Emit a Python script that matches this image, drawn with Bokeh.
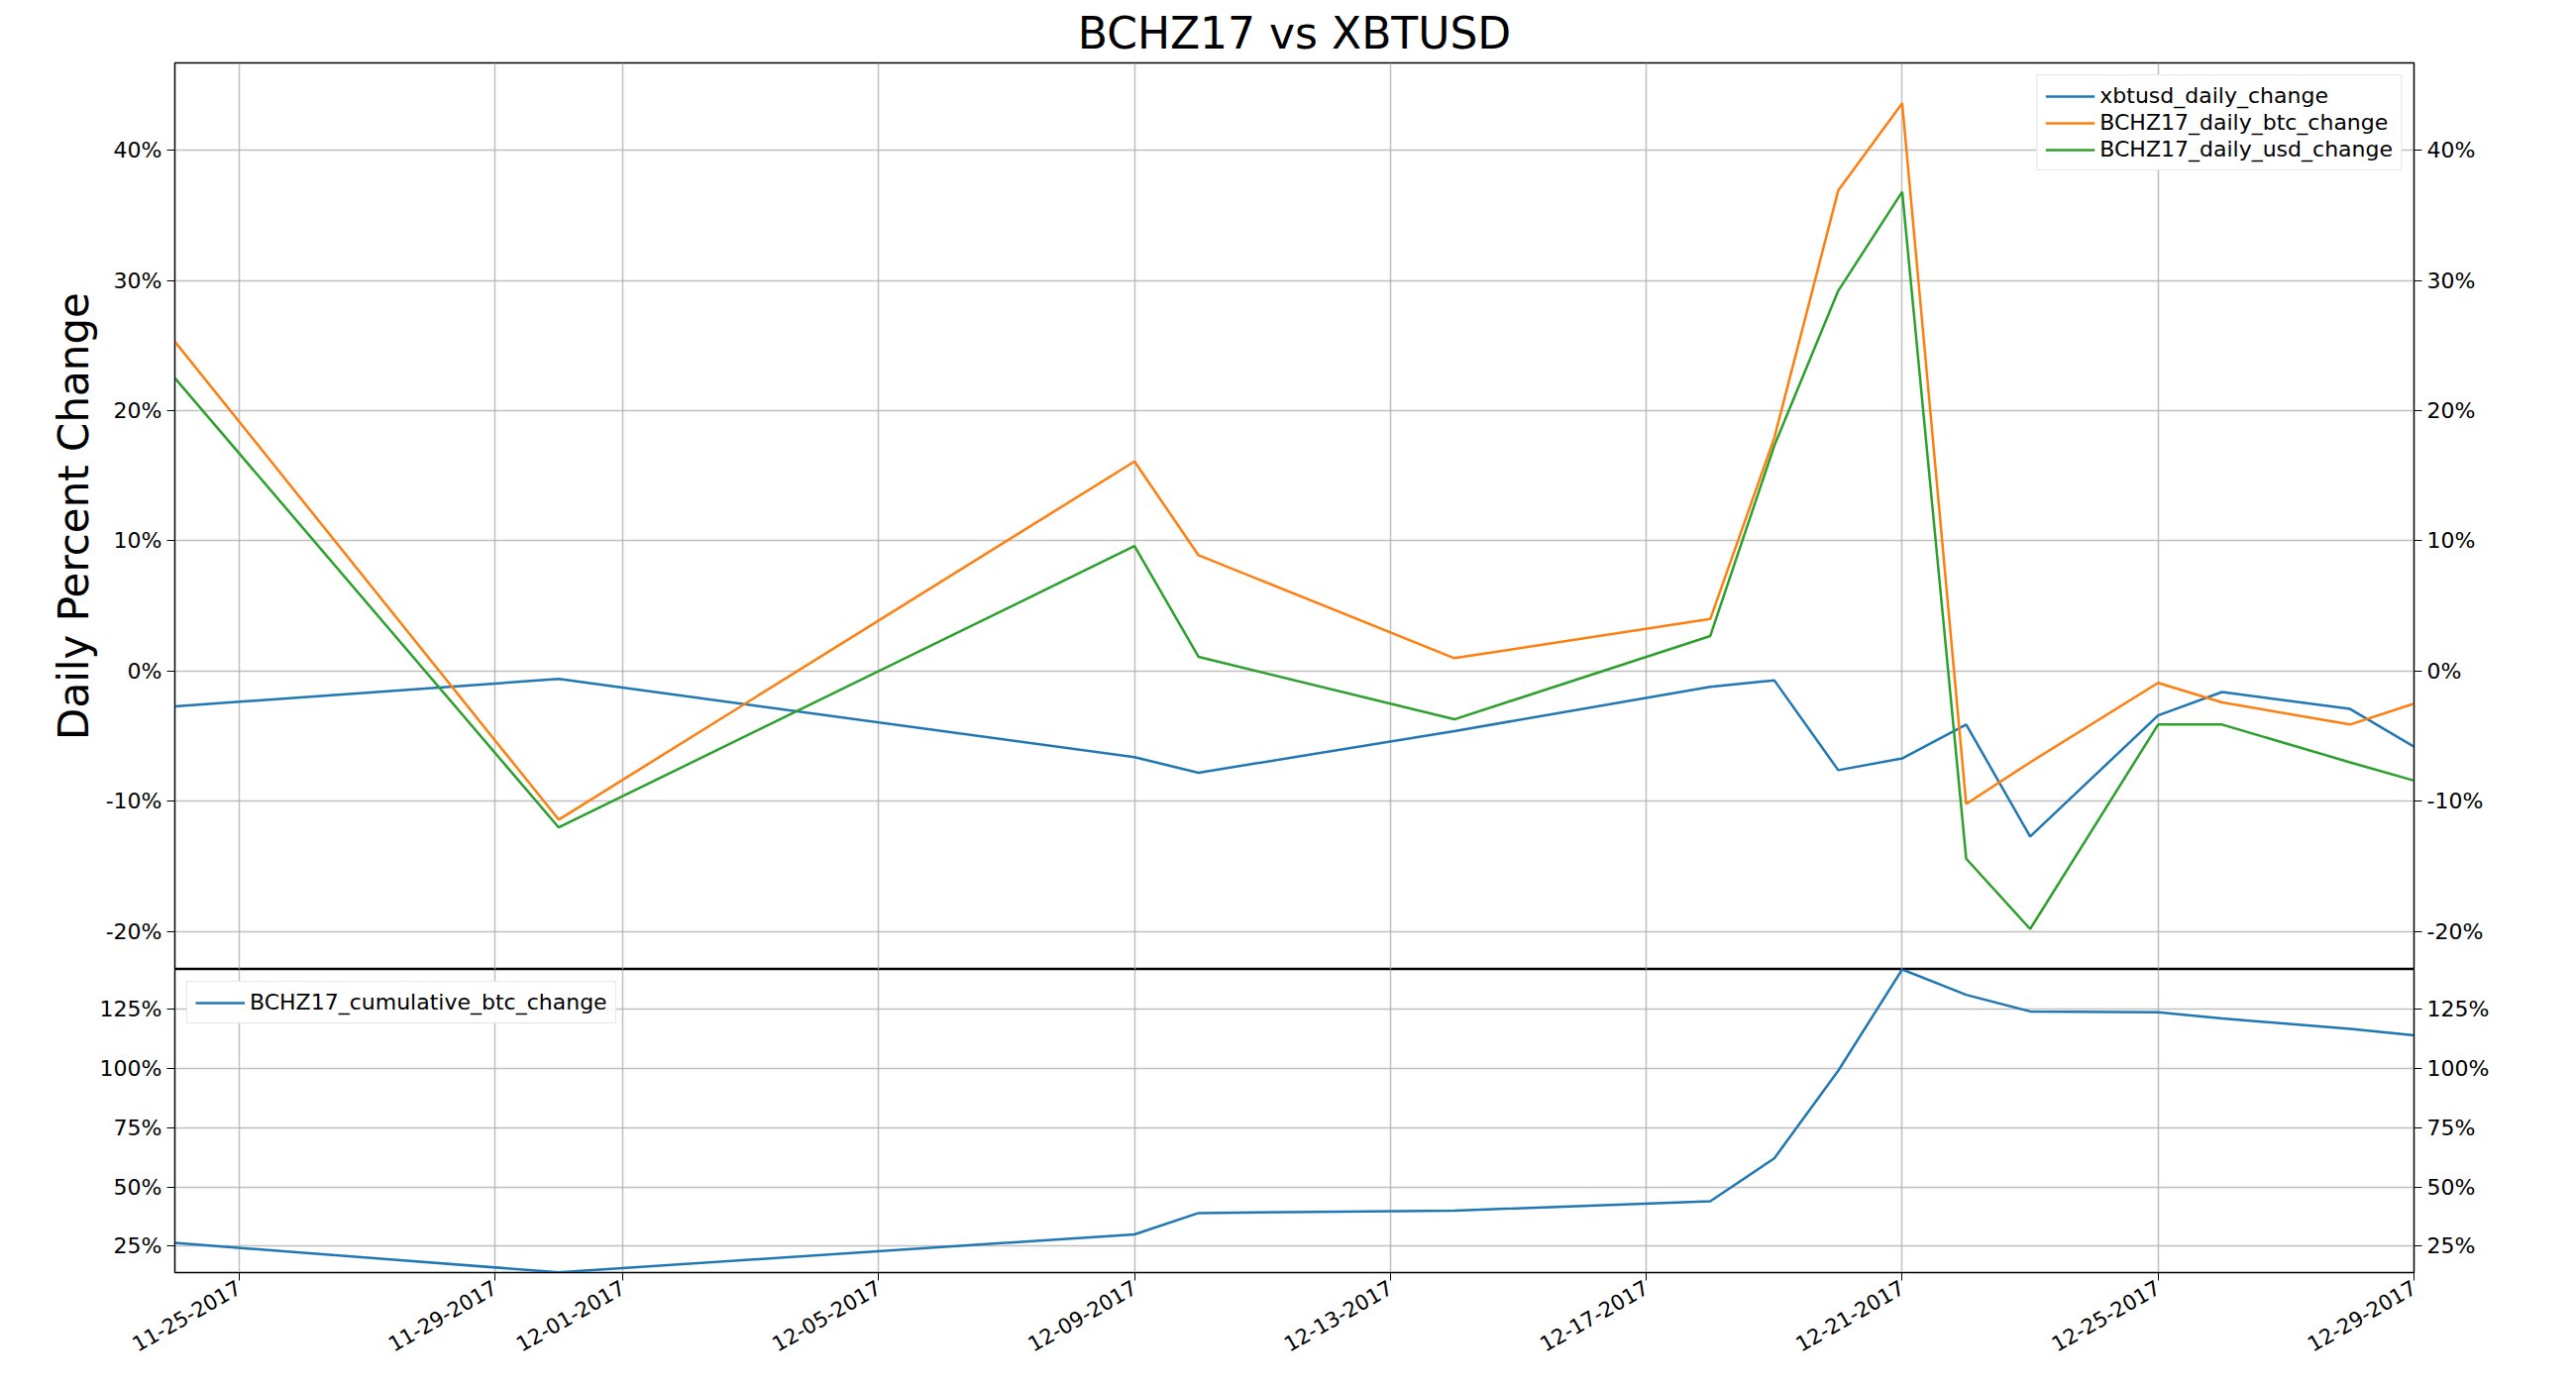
from datetime import datetime
from bokeh.plotting import figure
from bokeh.layouts import column
from bokeh.models import (LinearAxis, FixedTicker, SingleIntervalTicker, PrintfTickFormatter,
                          DatetimeTickFormatter, Range1d, Legend, LegendItem)
from bokeh.embed import file_html
from bokeh.resources import INLINE

dates = ["2017-11-24", "2017-11-30", "2017-12-09", "2017-12-10", "2017-12-14", "2017-12-18",
         "2017-12-19", "2017-12-20", "2017-12-21", "2017-12-22", "2017-12-23", "2017-12-25",
         "2017-12-26", "2017-12-28", "2017-12-29"]
xbtusd_daily_change = [-2.7, -0.6, -6.6, -7.8, -4.6, -1.2, -0.7, -7.6, -6.7, -4.1, -12.7, -3.4, -1.6, -2.9, -5.8]
bchz17_daily_btc_change = [25.3, -11.4, 16.1, 8.9, 1.0, 4.0, 17.9, 36.9, 43.6, -10.2, -7.0, -0.9, -2.4, -4.1, -2.5]
bchz17_daily_usd_change = [22.5, -12.0, 9.6, 1.1, -3.7, 2.7, 17.3, 29.2, 36.8, -14.4, -19.8, -4.1, -4.1, -7.0, -8.4]
bchz17_cumulative_btc_change = [26.4, 14.0, 30.0, 39.0, 40.0, 44.0, 62.0, 99.0, 141.7, 131.0, 124.0, 123.6, 121.0, 116.6, 113.9]
tick_dates = ["2017-11-25", "2017-11-29", "2017-12-01", "2017-12-05", "2017-12-09",
              "2017-12-13", "2017-12-17", "2017-12-21", "2017-12-25", "2017-12-29"]

x = [datetime.fromisoformat(d) for d in dates]
ticks = [datetime.fromisoformat(d).timestamp() * 1000 for d in tick_dates]
x_range = Range1d(x[0], x[-1])

BLUE, ORANGE, GREEN = "#1f77b4", "#ff7f0e", "#2ca02c"
FONT = "DejaVu Sans"
TICK_SIZE = "22px"


def style(p, interval):
    p.xgrid.ticker = FixedTicker(ticks=ticks)
    for ax in p.yaxis:
        ax.ticker = SingleIntervalTicker(interval=interval)
        ax.formatter = PrintfTickFormatter(format="%d%%")
        ax.major_label_text_font = FONT
        ax.major_label_text_font_size = TICK_SIZE
        ax.major_label_text_color = "black"
        ax.minor_tick_line_color = None
        ax.major_tick_out = 8
        ax.major_tick_in = 0
    p.grid.grid_line_color = "#b0b0b0"
    p.grid.grid_line_alpha = 0.8
    p.grid.grid_line_width = 1.5
    p.outline_line_color = "black"
    p.outline_line_width = 1.5


p1 = figure(output_backend="svg", toolbar_location=None, x_axis_type="datetime", x_range=x_range,
            y_range=Range1d(-22.9, 46.7), frame_width=2260, frame_height=915,
            min_border_left=176, min_border_right=148, min_border_bottom=0, min_border_top=5)
p1.title.text = "BCHZ17 vs XBTUSD"
p1.title.align = "center"
p1.title.text_font = FONT
p1.title.text_font_size = "44px"
p1.title.text_font_style = "normal"
p1.title.text_color = "black"
r1 = p1.line(x, xbtusd_daily_change, color=BLUE, line_width=2.5)
r2 = p1.line(x, bchz17_daily_btc_change, color=ORANGE, line_width=2.5)
r3 = p1.line(x, bchz17_daily_usd_change, color=GREEN, line_width=2.5)
p1.add_layout(LinearAxis(), "right")
p1.yaxis[0].axis_label = "Daily Percent Change"
p1.yaxis[0].axis_label_text_font = FONT
p1.yaxis[0].axis_label_text_font_size = "42px"
p1.yaxis[0].axis_label_text_font_style = "normal"
p1.yaxis[0].axis_label_text_color = "black"
p1.xaxis.visible = False
style(p1, 10)
leg1 = Legend(items=[LegendItem(label="xbtusd_daily_change", renderers=[r1]),
                     LegendItem(label="BCHZ17_daily_btc_change", renderers=[r2]),
                     LegendItem(label="BCHZ17_daily_usd_change", renderers=[r3])],
              location="top_right")
p1.add_layout(leg1)

p2 = figure(output_backend="svg", toolbar_location=None, x_axis_type="datetime", x_range=x_range,
            y_range=Range1d(13.9, 141.7), frame_width=2260, frame_height=306,
            min_border_left=176, min_border_right=148, min_border_top=0, min_border_bottom=5)
r4 = p2.line(x, bchz17_cumulative_btc_change, color=BLUE, line_width=2.5)
p2.add_layout(LinearAxis(), "right")
p2.xaxis.ticker = FixedTicker(ticks=ticks)
p2.xaxis.formatter = DatetimeTickFormatter(days="%m-%d-%Y", months="%m-%d-%Y")
p2.xaxis.major_label_orientation = 0.52
p2.xaxis.major_label_text_font = FONT
p2.xaxis.major_label_text_font_size = "21px"
p2.xaxis.major_label_text_color = "black"
p2.xaxis.minor_tick_line_color = None
p2.xaxis.major_tick_out = 8
p2.xaxis.major_tick_in = 0
style(p2, 25)
leg2 = Legend(items=[LegendItem(label="BCHZ17_cumulative_btc_change", renderers=[r4])],
              location="top_left")
p2.add_layout(leg2)

for leg in (leg1, leg2):
    leg.label_text_font = FONT
    leg.label_text_font_size = TICK_SIZE
    leg.label_text_color = "black"
    leg.border_line_color = "#cccccc"
    leg.border_line_width = 1.5
    leg.glyph_width = 50
    leg.spacing = 2
    leg.padding = 8
    leg.margin = 12

layout = column(p1, p2, spacing=0)
open("out.html", "w").write(file_html(layout, INLINE))
